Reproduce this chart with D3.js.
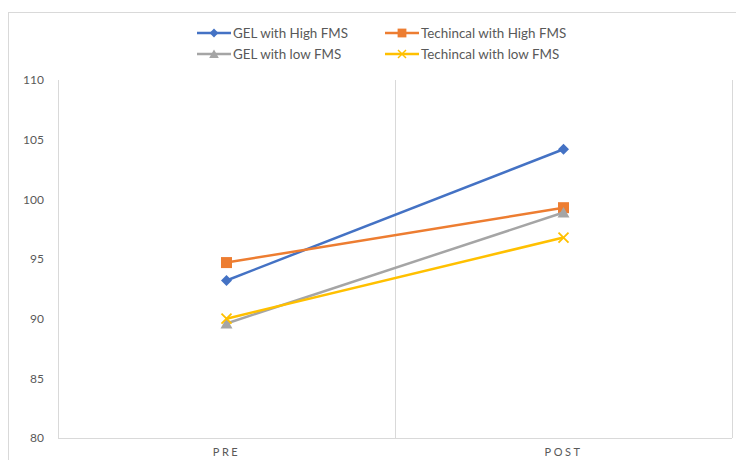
<!DOCTYPE html>
<html>
<head>
<meta charset="utf-8">
<script src="https://cdn.jsdelivr.net/npm/d3@7"></script>
<style>
  body { margin: 0; background: #fff; }
  svg { display: block; font-family: Lato, "Open Sans", "Liberation Sans", sans-serif; }
</style>
</head>
<body>
<svg id="chart" width="736" height="460"></svg>
<script>
// Data
var categories = ['PRE', 'POST'];
var seriesNames = ['GEL with High FMS', 'Techincal with High FMS', 'GEL with low FMS', 'Techincal with low FMS'];
var gelHigh = [93.2, 104.2];
var techHigh = [94.7, 99.3];
var gelLow = [89.6, 98.9];
var techLow = [90.0, 96.8];
var yTicks = [80, 85, 90, 95, 100, 105, 110];

var seriesValues = [gelHigh, techHigh, gelLow, techLow];
var colors = ['#4472C4', '#ED7D31', '#A5A5A5', '#FFC000'];
var markers = ['diamond', 'square', 'triangle', 'x'];

var svg = d3.select('#chart');

// outer chart border
svg.append('rect')
    .attr('x', 8.5).attr('y', 12.5)
    .attr('width', 740).attr('height', 460)
    .attr('fill', 'none').attr('stroke', '#d9d9d9');

var plotLeft = 58, plotRight = 732, plotTop = 80, plotBottom = 438;

var x = d3.scaleBand().domain(categories).range([plotLeft, plotRight]);
var y = d3.scaleLinear().domain([80, 110]).range([plotBottom, plotTop]);

// axis lines and category dividers
var g = svg.append('g');
g.append('line').attr('x1', plotLeft).attr('x2', plotRight).attr('y1', plotBottom + 0.5).attr('y2', plotBottom + 0.5)
    .attr('stroke', '#d9d9d9');
categories.forEach(function(c) {
    var xe = Math.round(x(c) + x.bandwidth()) + 0.5;
    g.append('line')
        .attr('x1', xe).attr('x2', xe)
        .attr('y1', plotTop).attr('y2', plotBottom)
        .attr('stroke', '#d9d9d9');
});
g.append('line').attr('x1', plotLeft + 0.5).attr('x2', plotLeft + 0.5).attr('y1', plotTop).attr('y2', plotBottom)
    .attr('stroke', '#d9d9d9');

// y tick labels
svg.append('g').selectAll('text')
    .data(yTicks)
    .enter()
    .append('text')
    .attr('x', 44)
    .attr('y', function(d) { return y(d); })
    .attr('dy', '0.35em')
    .attr('text-anchor', 'end')
    .attr('font-size', 12)
    .attr('fill', '#595959')
    .text(function(d) { return d; });

// x labels
svg.append('g').selectAll('text')
    .data(categories)
    .enter()
    .append('text')
    .attr('x', function(d) { return x(d) + x.bandwidth() / 2; })
    .attr('y', 456)
    .attr('text-anchor', 'middle')
    .attr('font-size', 11)
    .attr('letter-spacing', '2.5px')
    .attr('fill', '#595959')
    .text(function(d) { return d; });

function drawMarker(sel, type, color) {
    if (type === 'diamond') {
        sel.append('path').attr('d', 'M0,-5.5L5.5,0L0,5.5L-5.5,0Z').attr('fill', color);
    } else if (type === 'square') {
        sel.append('rect').attr('x', -5.5).attr('y', -5.5).attr('width', 11).attr('height', 11).attr('fill', color);
    } else if (type === 'triangle') {
        sel.append('path').attr('d', 'M0,-5.5L6,5L-6,5Z').attr('fill', color);
    } else {
        sel.append('path').attr('d', 'M-5,-5L5,5M-5,5L5,-5').attr('stroke', color).attr('stroke-width', 1.8);
    }
}

var line = d3.line()
    .x(function(d, i) { return x(categories[i]) + x.bandwidth() / 2; })
    .y(function(d) { return y(d); });

seriesValues.forEach(function(vals, s) {
    var sg = svg.append('g');
    sg.append('path')
        .attr('d', line(vals))
        .attr('fill', 'none')
        .attr('stroke', colors[s])
        .attr('stroke-width', 2.5);
    vals.forEach(function(v, i) {
        var m = sg.append('g')
            .attr('transform', 'translate(' + (x(categories[i]) + x.bandwidth() / 2) + ',' + y(v) + ')');
        drawMarker(m, markers[s], colors[s]);
    });
});

// legend
var legendPos = [[197, 33], [385, 33], [197, 54], [385, 54]];
seriesNames.forEach(function(name, s) {
    var lg = svg.append('g').attr('transform', 'translate(' + legendPos[s][0] + ',' + legendPos[s][1] + ')');
    lg.append('line').attr('x1', 0).attr('x2', 34).attr('y1', 0).attr('y2', 0)
        .attr('stroke', colors[s]).attr('stroke-width', 2.5);
    var m = lg.append('g').attr('transform', 'translate(17,0) scale(0.8)');
    drawMarker(m, markers[s], colors[s]);
    lg.append('text')
        .attr('x', 36).attr('y', 0).attr('dy', '0.35em')
        .attr('font-size', 13.4)
        .attr('fill', '#595959')
        .text(name);
});
</script>
</body>
</html>
